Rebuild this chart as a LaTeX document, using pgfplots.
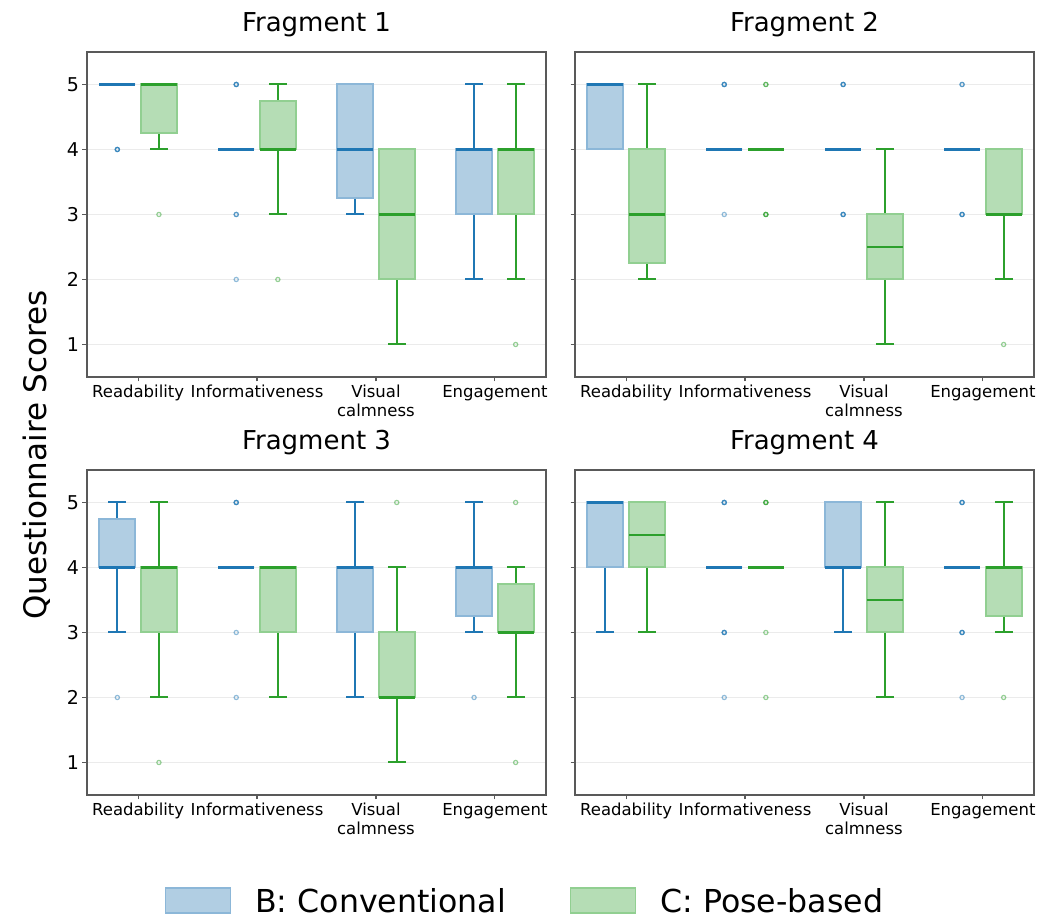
\documentclass[border=0pt]{standalone}
\usepackage{fontspec}
\setmainfont{DejaVu Sans}
\usepackage{pgfplots}
\pgfplotsset{compat=1.18}
\usepgfplotslibrary{statistics}

\definecolor{cB}{RGB}{31,119,180}
\definecolor{cBfill}{RGB}{177,206,227}
\definecolor{cBedge}{RGB}{140,183,216}
\definecolor{cC}{RGB}{44,160,44}
\definecolor{cCfill}{RGB}{181,221,181}
\definecolor{cCedge}{RGB}{145,207,145}

\pgfplotsset{
  boxB/.style={forget plot, draw=cB, line width=2pt,
    boxplot/every box/.style={draw=cBedge, fill=cBfill, line width=2pt},
    boxplot/every median/.style={draw=cB, line width=2.6pt},
    boxplot/every whisker/.style={draw=cB, line width=2pt}},
  boxC/.style={forget plot, draw=cC, line width=2pt,
    boxplot/every box/.style={draw=cCedge, fill=cCfill, line width=2pt},
    boxplot/every median/.style={draw=cC, line width=2.6pt},
    boxplot/every whisker/.style={draw=cC, line width=2pt}},
  outB/.style={forget plot, only marks, mark=o, mark size=2.1pt,
    mark options={solid, draw=cB, draw opacity=0.5, line width=1.2pt, fill=none}},
  outC/.style={forget plot, only marks, mark=o, mark size=2.1pt,
    mark options={solid, draw=cC, draw opacity=0.5, line width=1.2pt, fill=none}},
  every axis title/.style={at={(0.5,1)}, anchor=base, yshift=20pt,
    font=\fontsize{26}{30}\selectfont},
  panel/.style={scale only axis, width=459pt, height=325pt,
    xmin=-0.43, xmax=3.43, ymin=0.5, ymax=5.5,
    boxplot/draw direction=y,
    boxplot/box extend=0.3, boxplot/whisker extend=0.15,
    ytick={1,2,3,4,5}, xtick={0,1,2,3},
    xticklabels={Readability,Informativeness,{Visual\\calmness},Engagement},
    xticklabel style={align=center, font=\fontsize{16.5}{19}\selectfont},
    yticklabel style={font=\fontsize{19}{22}\selectfont},
    /pgf/number format/assume math mode=true,
    tick align=outside, xtick pos=bottom, ytick pos=left,
    major tick length=4.5pt,
    tick style={black!65, line width=1.2pt},
    axis line style={black!65, line width=1.2pt},
    ymajorgrids, grid style={black!8, line width=1pt},
  },
}

\newcommand{\Bbox}[6]{\addplot[boxB, boxplot prepared={draw position=#1, lower whisker=#2, lower quartile=#3, median=#4, upper quartile=#5, upper whisker=#6}] coordinates {};}
\newcommand{\Cbox}[6]{\addplot[boxC, boxplot prepared={draw position=#1, lower whisker=#2, lower quartile=#3, median=#4, upper quartile=#5, upper whisker=#6}] coordinates {};}

\begin{document}
\begin{tikzpicture}
\useasboundingbox (0pt,0pt) rectangle (1040pt,920pt);

% ---------------- Fragment 1 ----------------
\begin{axis}[panel, at={(87pt,543pt)}, anchor=south west, title={Fragment 1}]
% pos, lower whisker, Q1, median, Q3, upper whisker
\Bbox{-0.175}{5}{5}{5}{5}{5}
\Cbox{0.175}{4}{4.25}{5}{5}{5}
\Bbox{0.825}{4}{4}{4}{4}{4}
\Cbox{1.175}{3}{4}{4}{4.75}{5}
\Bbox{1.825}{3}{3.25}{4}{5}{5}
\Cbox{2.175}{1}{2}{3}{4}{4}
\Bbox{2.825}{2}{3}{4}{4}{5}
\Cbox{3.175}{2}{3}{4}{4}{5}
\addplot[outB] coordinates {(-0.175,4) (-0.175,4) (-0.175,4)
  (0.825,5) (0.825,5) (0.825,5) (0.825,3) (0.825,3) (0.825,2)};
\addplot[outC] coordinates {(0.175,3) (1.175,2) (3.175,1)};
\end{axis}

% ---------------- Fragment 2 ----------------
\begin{axis}[panel, at={(575pt,543pt)}, anchor=south west, title={Fragment 2}, yticklabels={}]
\Bbox{-0.175}{4}{4}{5}{5}{5}
\Cbox{0.175}{2}{2.25}{3}{4}{5}
\Bbox{0.825}{4}{4}{4}{4}{4}
\Cbox{1.175}{4}{4}{4}{4}{4}
\Bbox{1.825}{4}{4}{4}{4}{4}
\Cbox{2.175}{1}{2}{2.5}{3}{4}
\Bbox{2.825}{4}{4}{4}{4}{4}
\Cbox{3.175}{2}{3}{3}{4}{4}
\addplot[outB] coordinates {(0.825,5) (0.825,5) (0.825,5) (0.825,3)
  (1.825,5) (1.825,5) (1.825,5) (1.825,3) (1.825,3) (1.825,3)
  (2.825,5) (2.825,5) (2.825,3) (2.825,3) (2.825,3)};
\addplot[outC] coordinates {(1.175,5) (1.175,5) (1.175,3) (1.175,3) (1.175,3) (3.175,1)};
\end{axis}

% ---------------- Fragment 3 ----------------
\begin{axis}[panel, at={(87pt,125pt)}, anchor=south west, title={Fragment 3},
  legend columns=2,
  legend style={at={(0.952,-0.325)}, anchor=center, draw=none, fill=none,
    font=\fontsize{31.6}{36}\selectfont, nodes={inner sep=0pt},
    column sep=24pt, /tikz/every even column/.append style={column sep=64pt}}]
\addlegendimage{legend image code/.code={\draw[fill=cBfill, draw=cBedge, line width=1.5pt] (0pt,-12.3pt) rectangle (65pt,12.7pt);}}
\addlegendentry{B: Conventional}
\addlegendimage{legend image code/.code={\draw[fill=cCfill, draw=cCedge, line width=1.5pt] (0pt,-12.3pt) rectangle (65pt,12.7pt);}}
\addlegendentry{C: Pose-based}
\Bbox{-0.175}{3}{4}{4}{4.75}{5}
\Cbox{0.175}{2}{3}{4}{4}{5}
\Bbox{0.825}{4}{4}{4}{4}{4}
\Cbox{1.175}{2}{3}{4}{4}{4}
\Bbox{1.825}{2}{3}{4}{4}{5}
\Cbox{2.175}{1}{2}{2}{3}{4}
\Bbox{2.825}{3}{3.25}{4}{4}{5}
\Cbox{3.175}{2}{3}{3}{3.75}{4}
\addplot[outB] coordinates {(-0.175,2) (0.825,5) (0.825,5) (0.825,5) (0.825,3) (0.825,2) (2.825,2)};
\addplot[outC] coordinates {(0.175,1) (2.175,5) (3.175,5) (3.175,1)};
\end{axis}

% ---------------- Fragment 4 ----------------
\begin{axis}[panel, at={(575pt,125pt)}, anchor=south west, title={Fragment 4}, yticklabels={}]
\Bbox{-0.175}{3}{4}{5}{5}{5}
\Cbox{0.175}{3}{4}{4.5}{5}{5}
\Bbox{0.825}{4}{4}{4}{4}{4}
\Cbox{1.175}{4}{4}{4}{4}{4}
\Bbox{1.825}{3}{4}{4}{5}{5}
\Cbox{2.175}{2}{3}{3.5}{4}{5}
\Bbox{2.825}{4}{4}{4}{4}{4}
\Cbox{3.175}{3}{3.25}{4}{4}{5}
\addplot[outB] coordinates {(0.825,5) (0.825,5) (0.825,5) (0.825,3) (0.825,3) (0.825,3) (0.825,2)
  (2.825,5) (2.825,5) (2.825,5) (2.825,3) (2.825,3) (2.825,3) (2.825,2)};
\addplot[outC] coordinates {(1.175,5) (1.175,5) (1.175,5) (1.175,3) (1.175,2) (3.175,2)};
\end{axis}

\node[rotate=90, anchor=base, font=\fontsize{31}{36}\selectfont] at (46pt,465pt) {Questionnaire Scores};
\end{tikzpicture}
\end{document}
